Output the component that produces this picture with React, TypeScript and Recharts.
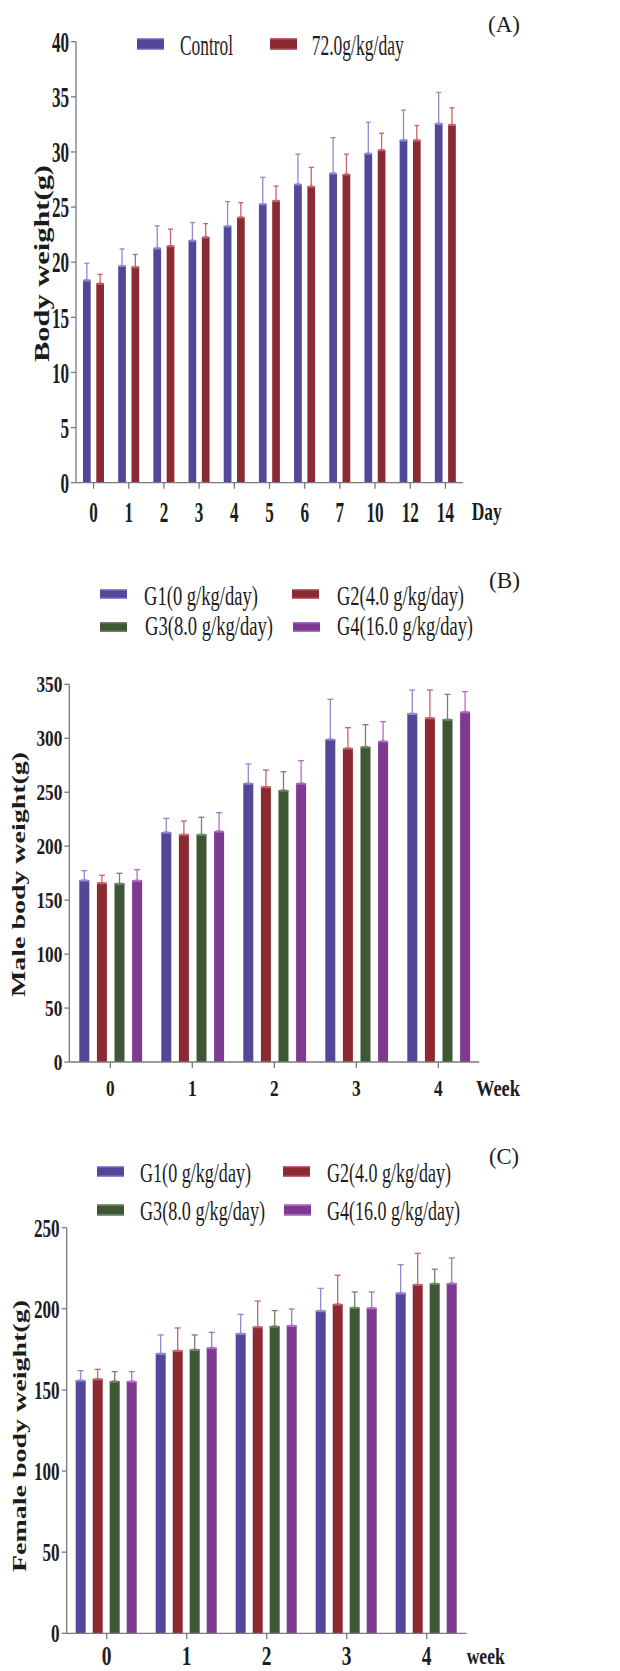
import React from 'react';
import { BarChart, Bar, XAxis, YAxis, ErrorBar } from 'recharts';

const FONT = '"Liberation Serif", "Times New Roman", serif';

// ---------- Panel A ----------
const daysA = ['0', '1', '2', '3', '4', '5', '6', '7', '10', '12', '14'];
const seriesA = ['Control', '72.0g/kg/day'];
const controlMean = [18.4, 19.7, 21.3, 22.0, 23.3, 25.3, 27.1, 28.1, 29.9, 31.1, 32.6];
const controlSD = [1.5, 1.5, 2.0, 1.6, 2.2, 2.4, 2.7, 3.2, 2.8, 2.7, 2.8];
const doseMean = [18.1, 19.6, 21.5, 22.3, 24.1, 25.6, 26.9, 28.0, 30.2, 31.1, 32.5];
const doseSD = [0.8, 1.1, 1.5, 1.2, 1.3, 1.3, 1.7, 1.8, 1.5, 1.3, 1.5];
const yTicksA = [0, 5, 10, 15, 20, 25, 30, 35, 40];

// ---------- Panels B & C ----------
const weeks = ['0', '1', '2', '3', '4'];
const groupNames = ['G1(0 g/kg/day)', 'G2(4.0 g/kg/day)', 'G3(8.0 g/kg/day)', 'G4(16.0 g/kg/day)'];

const maleG1Mean = [168.7, 213.1, 258.5, 299.3, 323.1];
const maleG1SD = [8.6, 12.7, 17.7, 36.8, 21.6];
const maleG2Mean = [166.2, 211.0, 255.2, 291.0, 319.1];
const maleG2SD = [6.8, 12.3, 15.4, 18.8, 25.6];
const maleG3Mean = [165.6, 211.0, 252.0, 292.2, 317.6];
const maleG3SD = [9.3, 15.8, 17.0, 20.4, 23.1];
const maleG4Mean = [168.4, 214.1, 258.5, 297.5, 324.6];
const maleG4SD = [9.8, 16.9, 20.7, 17.9, 18.6];
const yTicksB = [0, 50, 100, 150, 200, 250, 300, 350];

const femaleG1Mean = [156.1, 172.6, 184.9, 198.9, 209.9];
const femaleG1SD = [5.8, 11.3, 11.7, 13.7, 17.3];
const femaleG2Mean = [156.9, 174.4, 189.0, 203.0, 215.1];
const femaleG2SD = [5.8, 13.8, 15.8, 17.7, 19.1];
const femaleG3Mean = [155.5, 175.0, 189.4, 200.9, 215.7];
const femaleG3SD = [5.8, 8.9, 9.5, 9.5, 8.7];
const femaleG4Mean = [155.5, 176.1, 189.8, 200.7, 215.9];
const femaleG4SD = [5.8, 9.4, 10.1, 9.7, 15.4];
const yTicksC = [0, 50, 100, 150, 200, 250];

const COLORS = ['#51489A', '#8C2A33', '#3F5735', '#7E3A91'];
const LIGHT = ['#8F88D2', '#C4646E', '#6F8767', '#B26CC6'];
const AXIS = '#7a7a7a';
const TEXT = '#1c1c1c';

function buildRows(cats: string[], means: number[][], sds: number[][]) {
  return cats.map((c, i) => {
    const row: any = { cat: c };
    means.forEach((m, k) => {
      row['m' + k] = m[i];
      row['s' + k] = [0, sds[k][i]];
    });
    return row;
  });
}

const rowsA = buildRows(daysA, [controlMean, doseMean], [controlSD, doseSD]);
const rowsB = buildRows(weeks, [maleG1Mean, maleG2Mean, maleG3Mean, maleG4Mean], [maleG1SD, maleG2SD, maleG3SD, maleG4SD]);
const rowsC = buildRows(weeks, [femaleG1Mean, femaleG2Mean, femaleG3Mean, femaleG4Mean], [femaleG1SD, femaleG2SD, femaleG3SD, femaleG4SD]);

const makeYTick = (fs: number, sx: number) => (p: any) => (
  <g transform={`translate(${p.x},${p.y})`}>
    <text transform={`scale(${sx},1)`} x={0} y={fs * 0.34} textAnchor="end" fontFamily={FONT} fontSize={fs} fontWeight="bold" fill={TEXT}>
      {p.payload.value}
    </text>
  </g>
);

const makeXTick = (fs: number, sx: number, dy: number) => (p: any) => (
  <g transform={`translate(${p.x},${p.y})`}>
    <text transform={`scale(${sx},1)`} x={0} y={dy} textAnchor="middle" fontFamily={FONT} fontSize={fs} fontWeight="bold" fill={TEXT}>
      {p.payload.value}
    </text>
  </g>
);

const makeShape = (k: number) => (p: any) => {
  const { x, y, width, height } = p;
  if (!height || height <= 0) return <g />;
  return (
    <g>
      <rect x={x} y={y} width={width} height={height} fill={COLORS[k]} />
      <line x1={x} x2={x + width} y1={y + 0.8} y2={y + 0.8} stroke={LIGHT[k]} strokeWidth={1.6} />
    </g>
  );
};

type PanelProps = {
  top: number;
  height: number;
  rows: any[];
  n: number;
  plotTop: number;
  plotRight: number;
  xHeight: number;
  yWidth: number;
  yTicks: number[];
  barSize: number;
  barGap: number;
  yFs: number;
  ySx: number;
  xFs: number;
  xSx: number;
  xDy: number;
  capW: number;
};

function Panel(props: PanelProps) {
  const { top, height, rows, n, plotTop, plotRight, xHeight, yWidth, yTicks, barSize, barGap, yFs, ySx, xFs, xSx, xDy, capW } = props;
  const keys = Array.from({ length: n }, (_, k) => k);
  return (
    <div style={{ position: 'absolute', left: 0, top }}>
      <BarChart
        width={620}
        height={height}
        data={rows}
        margin={{ top: plotTop, right: plotRight, bottom: 0, left: 0 }}
        barGap={barGap}
        barSize={barSize}
      >
        <XAxis
          dataKey="cat"
          interval={0}
          height={xHeight}
          tickSize={6}
          tickMargin={2}
          axisLine={{ stroke: AXIS, strokeWidth: 1.3 }}
          tickLine={{ stroke: AXIS, strokeWidth: 1.3 }}
          tick={makeXTick(xFs, xSx, xDy)}
        />
        <YAxis
          width={yWidth}
          type="number"
          domain={[yTicks[0], yTicks[yTicks.length - 1]]}
          ticks={yTicks}
          allowDataOverflow
          interval={0}
          tickSize={5}
          tickMargin={2}
          axisLine={{ stroke: AXIS, strokeWidth: 1.3 }}
          tickLine={{ stroke: AXIS, strokeWidth: 1.3 }}
          tick={makeYTick(yFs, ySx)}
        />
        {keys.map((k) => (
          <Bar key={k} dataKey={'m' + k} fill={COLORS[k]} isAnimationActive={false} shape={makeShape(k)}>
            <ErrorBar dataKey={'s' + k} direction="y" width={capW} stroke={LIGHT[k]} strokeWidth={1.3} />
          </Bar>
        ))}
      </BarChart>
    </div>
  );
}

const Swatch = ({ x, y, w, h, k }: { x: number; y: number; w: number; h: number; k: number }) => (
  <g>
    <rect x={x} y={y} width={w} height={h} fill={COLORS[k]} />
    <line x1={x} x2={x + w} y1={y + 0.7} y2={y + 0.7} stroke={LIGHT[k]} strokeWidth={1.4} />
    <line x1={x} x2={x + w} y1={y + h - 0.7} y2={y + h - 0.7} stroke={LIGHT[k]} strokeWidth={1.4} />
  </g>
);

const Txt = ({ x, y, fs, len, bold, anchor, rotate, children }: any) => (
  <text
    x={x}
    y={y}
    fontFamily={FONT}
    fontSize={fs}
    fontWeight={bold ? 'bold' : 'normal'}
    fill={TEXT}
    textAnchor={anchor || 'start'}
    textLength={len}
    lengthAdjust="spacingAndGlyphs"
    transform={rotate ? `rotate(-90 ${x} ${y})` : undefined}
  >
    {children}
  </text>
);

// legend layouts (positions only)
const legendA = [
  { sx: 137, sy: 38, tx: 180, ty: 55, len: 53 },
  { sx: 270, sy: 38, tx: 311.7, ty: 55, len: 92 },
];
const legendB = [
  { sx: 100, sy: 589, tx: 144, ty: 605, len: 114 },
  { sx: 292, sy: 589, tx: 337, ty: 605, len: 127 },
  { sx: 100, sy: 622, tx: 145, ty: 635, len: 128 },
  { sx: 293, sy: 622, tx: 337, ty: 635, len: 136 },
];
const legendC = [
  { sx: 97, sy: 1166, tx: 140, ty: 1181.5, len: 111 },
  { sx: 283, sy: 1166, tx: 327, ty: 1181.5, len: 124 },
  { sx: 97, sy: 1204.5, tx: 140, ty: 1220, len: 125 },
  { sx: 284, sy: 1204.5, tx: 327, ty: 1220, len: 133 },
];

export default function App() {
  return (
    <div style={{ position: 'absolute', left: 0, top: 0, width: 620, height: 1671, background: '#fff', overflow: 'hidden' }}>
      <Panel
        top={0}
        height={540}
        rows={rowsA}
        n={2}
        plotTop={41.7}
        plotRight={157}
        xHeight={57.3}
        yWidth={76}
        yTicks={yTicksA}
        barSize={7.7}
        barGap={5.6}
        yFs={30}
        ySx={0.57}
        xFs={29}
        xSx={0.59}
        xDy={31}
        capW={2.5}
      />
      <Panel
        top={560}
        height={560}
        rows={rowsB}
        n={4}
        plotTop={124.3}
        plotRight={140.7}
        xHeight={58}
        yWidth={69.3}
        yTicks={yTicksB}
        barSize={10}
        barGap={7.6}
        yFs={24}
        ySx={0.72}
        xFs={24}
        xSx={0.72}
        xDy={26}
        capW={3}
      />
      <Panel
        top={1130}
        height={541}
        rows={rowsC}
        n={4}
        plotTop={97.7}
        plotRight={153.3}
        xHeight={37.7}
        yWidth={66.7}
        yTicks={yTicksC}
        barSize={10}
        barGap={7}
        yFs={26}
        ySx={0.66}
        xFs={27}
        xSx={0.72}
        xDy={24}
        capW={3}
      />
      <svg width={620} height={1671} style={{ position: 'absolute', left: 0, top: 0, pointerEvents: 'none' }}>
        {/* Panel labels */}
        <Txt x={488} y={32} fs={23} len={32}>(A)</Txt>
        <Txt x={489} y={588} fs={23} len={31}>(B)</Txt>
        <Txt x={489} y={1164} fs={23} len={30}>(C)</Txt>

        {/* Legends */}
        {legendA.map((l, k) => (
          <g key={'la' + k}>
            <Swatch x={l.sx} y={l.sy} w={27} h={12} k={k} />
            <Txt x={l.tx} y={l.ty} fs={30} len={l.len}>{seriesA[k]}</Txt>
          </g>
        ))}
        {legendB.map((l, k) => (
          <g key={'lb' + k}>
            <Swatch x={l.sx} y={l.sy} w={27} h={10} k={k} />
            <Txt x={l.tx} y={l.ty} fs={28} len={l.len}>{groupNames[k]}</Txt>
          </g>
        ))}
        {legendC.map((l, k) => (
          <g key={'lc' + k}>
            <Swatch x={l.sx} y={l.sy} w={27} h={11} k={k} />
            <Txt x={l.tx} y={l.ty} fs={27} len={l.len}>{groupNames[k]}</Txt>
          </g>
        ))}

        {/* Axis unit labels */}
        <Txt x={471.7} y={520} fs={26} len={30} bold>Day</Txt>
        <Txt x={476} y={1096} fs={23} len={44} bold>Week</Txt>
        <Txt x={466.7} y={1664} fs={24} len={38} bold>week</Txt>

        {/* Y axis titles */}
        <Txt x={49} y={263.5} fs={21} len={197} bold anchor="middle" rotate>Body weight(g)</Txt>
        <Txt x={25} y={874.5} fs={18} len={245} bold anchor="middle" rotate>Male body weight(g)</Txt>
        <Txt x={25.5} y={1436} fs={19} len={272} bold anchor="middle" rotate>Female body weight(g)</Txt>
      </svg>
    </div>
  );
}
